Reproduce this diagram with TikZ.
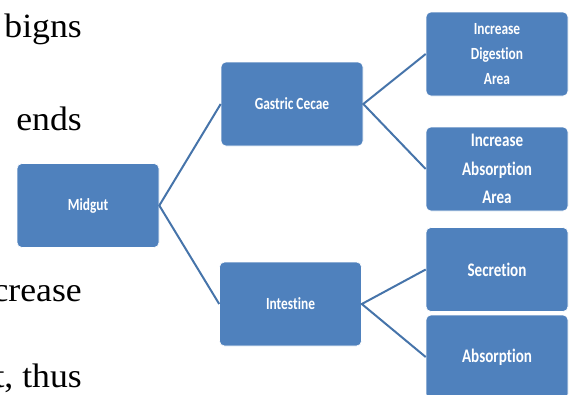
\documentclass[tikz,border=0pt]{standalone}
\usepackage{fontspec}
\setmainfont{Carlito}[Ligatures=NoCommon]
\newfontfamily\serifside{Liberation Serif}
\newcommand{\tl}[1]{\scalebox{1}[1.27]{#1}}
\newcommand{\sw}[1]{\scalebox{1.05}[1]{#1}}
\begin{document}
\begin{tikzpicture}[x=1pt,y=-1pt,
  box/.style={draw=white,line width=0.6pt,fill=boxblue,rounded corners=5pt,
    text=white,align=center,inner sep=0pt,minimum width=142pt,minimum height=84pt},
  small/.style={font=\bfseries\fontsize{13.4}{25}\selectfont},
  big/.style={font=\bfseries\fontsize{15.1}{28.5}\selectfont},
  link/.style={draw=lineblue,line width=2pt},
  sidetext/.style={anchor=base east,inner sep=0pt,font=\serifside\fontsize{34}{34}\selectfont}]
\definecolor{boxblue}{HTML}{4F81BD}
\definecolor{lineblue}{HTML}{4674AA}
\useasboundingbox (0,0) rectangle (573,394);
\clip (0,0) rectangle (573,394);
\node[sidetext] (t1) at (82,37) {\sw{bigns}};
\node[sidetext] (t2) at (82,130) {\sw{ends}};
\node[sidetext] (t3) at (82,301) {\sw{increase}};
\node[sidetext] (t4) at (82,387) {\sw{t, thus}};
\node[box,small] (mid) at (88,205.5) {\tl{Midgut}};
\node[box,small] (gas) at (292,104) {\tl{Gastric Cecae}};
\node[box,small] (int) at (290.5,304) {\tl{Intestine}};
\node[box,small] (dig) at (497,54) {\tl{Increase}\\\tl{Digestion}\\\tl{Area}};
\node[box,big] (abar) at (497,169) {\tl{Increase}\\\tl{Absorption}\\\tl{Area}};
\node[box,big] (sec) at (497,269.5) {\tl{Secretion}};
\node[box,big] (abs) at (497,357) {\tl{Absorption}};
\draw[link] (gas.west) -- (mid.east) -- (int.west);
\draw[link] (dig.west) -- (gas.east) -- (abar.west);
\draw[link] (sec.west) -- (int.east) -- (abs.west);
\end{tikzpicture}
\end{document}
